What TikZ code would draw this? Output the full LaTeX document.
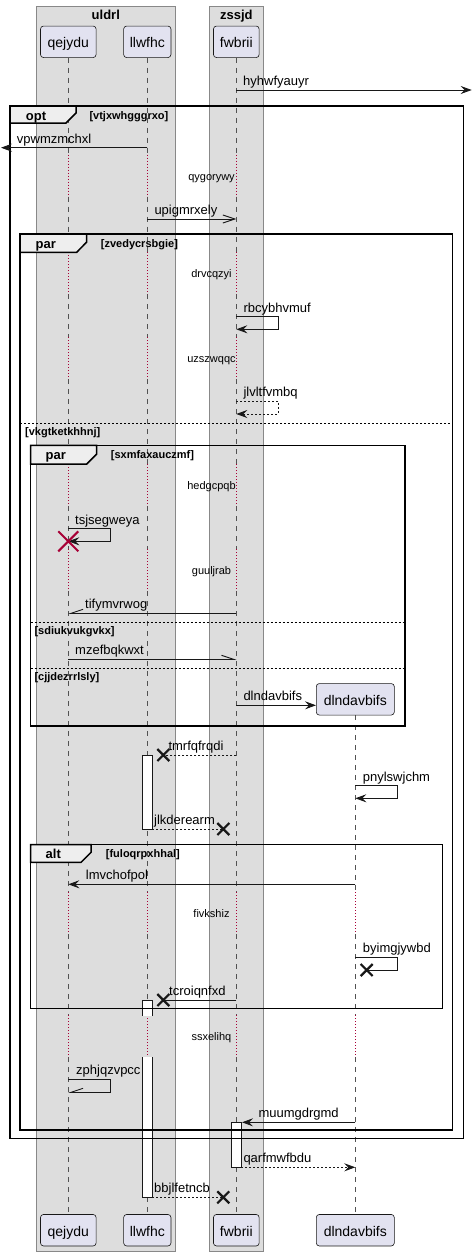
\documentclass[tikz,border=0pt]{standalone}
\usepackage{fontspec}
\setmainfont{Liberation Sans}
\usetikzlibrary{arrows.meta}
\definecolor{boxgrey}{HTML}{DDDDDD}
\definecolor{boxedge}{HTML}{888888}
\definecolor{partfill}{HTML}{E2E2F0}
\definecolor{tabfill}{HTML}{EEEEEE}
\definecolor{ink}{HTML}{181818}
\definecolor{delayred}{HTML}{A80036}
\begin{document}
\begin{tikzpicture}[x=1pt,y=-1pt,
  grpbox/.style={fill=boxgrey,draw=boxedge,line width=0.8pt},
  grptitle/.style={anchor=base,inner sep=0pt,font=\bfseries\fontsize{13}{15}\selectfont},
  actor/.style={draw=ink,fill=partfill,line width=0.6pt,rounded corners=3pt,inner sep=0pt,
    minimum height=31.5pt,text height=12.5pt,text depth=0.5pt,font=\fontsize{14}{16}\selectfont},
  life/.style={draw=ink!75,line width=0.6pt,dash pattern=on 5pt off 5pt},
  delayline/.style={draw=delayred,line width=0.8pt,dash pattern=on 1pt off 2pt},
  actbox/.style={fill=white,draw=ink,line width=0.6pt},
  frame/.style={draw=black,line width=1.5pt},
  tabshape/.style={fill=tabfill,draw=black,line width=1.5pt},
  framelbl/.style={anchor=base,inner sep=0pt,font=\bfseries\fontsize{13}{15}\selectfont},
  guard/.style={anchor=base west,inner sep=0pt,font=\bfseries\fontsize{11}{13}\selectfont},
  elseline/.style={draw=black,line width=0.8pt,dash pattern=on 2pt off 2pt},
  msg/.style={draw=ink,line width=0.9pt},
  reply/.style={msg,dash pattern=on 2pt off 2pt},
  tipfull/.style={-{Stealth[length=11pt,width=8pt,inset=4pt]}},
  tipopen/.style={-{Straight Barb[length=12pt,width=8pt]}},
  tipupl/.style={-{Straight Barb[left,length=12pt,width=8pt]}},
  tipupr/.style={-{Straight Barb[right,length=12pt,width=8pt]}},
  lbl/.style={anchor=base west,inner sep=0pt,font=\fontsize{13}{15}\selectfont},
  delaytxt/.style={anchor=base,inner sep=0pt,font=\fontsize{11}{13}\selectfont},
  lostx/.pic={\draw[ink,line width=2.2pt] (-6,-6) -- (6,6) (-6,6) -- (6,-6);},
  killx/.pic={\draw[delayred,line width=2pt] (-10,-10) -- (10,10) (-10,10) -- (10,-10);}
]
\useasboundingbox (0,0) rectangle (472,1256);

% participant groups
\path[grpbox] (36.3,6) rectangle (175.3,1251.7);
\path[grpbox] (209.3,6) rectangle (263.3,1251.7);
\node[grptitle] (t-uldrl) at (105.8,19.5) {uldrl};
\node[grptitle] (t-zssjd) at (236.3,19.5) {zssjd};

% lifelines: dashed, dotted red while delayed
\foreach \lx in {68.3,147.3,236.3}{
  \foreach \a/\b in {57.5/154.7,196.7/252.3,294.3/337,379/464,506/549,591/892,934/1015.3,1057.3/1214.3}
    {\draw[life] (\lx,\a) -- (\lx,\b);}
  \foreach \a/\b in {154.7/196.7,252.3/294.3,337/379,464/506,549/591,892/934,1015.3/1057.3}
    {\draw[delayline] (\lx,\a) -- (\lx,\b);}
}
\foreach \a/\b in {715.3/892,934/1015.3,1057.3/1214.3}{\draw[life] (355.3,\a) -- (355.3,\b);}
\foreach \a/\b in {892/934,1015.3/1057.3}{\draw[delayline] (355.3,\a) -- (355.3,\b);}

% participants
\node[actor,minimum width=55.6pt] (qejydu) at (68.3,41.8) {qejydu};
\node[actor,minimum width=47.3pt] (llwfhc) at (147.3,41.8) {llwfhc};
\node[actor,minimum width=45.7pt] (fwbrii) at (236.3,41.8) {fwbrii};
\node[actor,minimum width=78pt] (dlndavbifs) at (355.3,699.3) {dlndavbifs};
\node[actor,minimum width=55.6pt] (qejydu-b) at (68.3,1230.2) {qejydu};
\node[actor,minimum width=47.3pt] (llwfhc-b) at (147.3,1230.2) {llwfhc};
\node[actor,minimum width=45.7pt] (fwbrii-b) at (236.3,1230.2) {fwbrii};
\node[actor,minimum width=78pt] (dlndavbifs-b) at (355.3,1230.2) {dlndavbifs};

% activations
\path[actbox] (142.7,755) rectangle (152.3,829);
\fill[white] (142.7,1000) rectangle (152.3,1015.7);
\draw[ink,line width=0.6pt] (142.7,1015.7) -- (142.7,1000) -- (152.3,1000) -- (152.3,1015.7);
\fill[white] (142.7,1057.3) rectangle (152.3,1197.3);
\draw[ink,line width=0.6pt] (142.7,1057.3) -- (142.7,1197.3) -- (152.3,1197.3) -- (152.3,1057.3);
\path[actbox] (231.7,1122.3) rectangle (241,1167.3);

% opt frame
\draw[frame] (10,106) rectangle (463.3,1138.3);
\draw[tabshape] (10,106) -- (76,106) -- (76,113) -- (66,123) -- (10,123) -- cycle;
\node[framelbl] (f-opt) at (36,120) {opt};
\node[guard] (g-opt) at (89.3,119) {[vtjxwhgggrxo]};

% outer par frame
\draw[frame] (20,234) rectangle (452.3,1130);
\draw[tabshape] (20,234) -- (86.7,234) -- (86.7,242) -- (76.7,252.3) -- (20,252.3) -- cycle;
\node[framelbl] (f-par1) at (45.8,248) {par};
\node[guard] (g-par1) at (100.7,247) {[zvedycrsbgie]};
\draw[elseline] (20,423.3) -- (452.3,423.3);
\node[guard] (g-par1b) at (25,435) {[vkgtketkhhnj]};

% inner par frame
\draw[frame] (30.7,445.3) rectangle (405,726);
\draw[tabshape] (30.7,445.3) -- (96.7,445.3) -- (96.7,454) -- (86.7,464) -- (30.7,464) -- cycle;
\node[framelbl] (f-par2) at (55.8,459.3) {par};
\node[guard] (g-par2) at (110.7,458.3) {[sxmfaxauczmf]};
\draw[elseline] (30.7,622.3) -- (405,622.3);
\node[guard] (g-par2b) at (34.3,634) {[sdiukvukgvkx]};
\draw[elseline] (30.7,668.3) -- (405,668.3);
\node[guard] (g-par2c) at (34.3,680) {[cjjdezrrlsly]};

% alt frame
\draw[frame] (30.7,844.7) rectangle (442.7,1008.3);
\draw[tabshape] (30.7,844.7) -- (91,844.7) -- (91,852.3) -- (81,862.3) -- (30.7,862.3) -- cycle;
\node[framelbl] (f-alt) at (53.3,858.7) {alt};
\node[guard] (g-alt) at (105.7,857.7) {[fuloqrpxhhal]};

% delays
\foreach \ty/\txt in {176.7/qygorywy,274.3/drvcqzyi,359/uzszwqqc,486/hedgcpqb,571/guuljrab,914/fivkshiz,1037.3/ssxelihq}
  {\node[delaytxt] (d-\txt) at (211.5,\ty+3.5) {\txt};}

% messages
\coordinate (m1a) at (236.3,90); \coordinate (m1b) at (471.7,90);
\draw[msg,tipfull] (m1a) -- (m1b);
\node[lbl] (m1t) at (243,85.3) {hyhwfyauyr};

\coordinate (m2a) at (147.3,147.7); \coordinate (m2b) at (1,147.7);
\draw[msg,tipfull] (m2a) -- (m2b);
\node[lbl] (m2t) at (16.7,143) {vpwmzmchxl};

\coordinate (m3a) at (147.3,219); \coordinate (m3b) at (236.3,219);
\draw[msg,tipopen] (m3a) -- (m3b);
\node[lbl] (m3t) at (154.3,214.3) {upigmrxely};

\coordinate (m4a) at (236.3,316.7); \coordinate (m4b) at (236.3,329.3);
\draw[msg,tipfull] (m4a) -- (278.3,316.7) -- (278.3,329.3) -- (m4b);
\node[lbl] (m4t) at (243.3,312) {rbcybhvmuf};

\coordinate (m5a) at (236.3,401.3); \coordinate (m5b) at (236.3,414);
\draw[reply,tipfull] (m5a) -- (278.3,401.3) -- (278.3,414) -- (m5b);
\node[lbl] (m5t) at (243.3,396.6) {jlvltfvmbq};

\coordinate (m6a) at (68.3,528.7); \coordinate (m6b) at (68.3,541.3);
\draw[msg,tipfull] (m6a) -- (110.3,528.7) -- (110.3,541.3) -- (m6b);
\node[lbl] (m6t) at (75,524) {tsjsegweya};
\pic at (m6b) {killx};

\coordinate (m7a) at (236.3,613.3); \coordinate (m7b) at (68.3,613.3);
\draw[msg,tipupr] (m7a) -- (m7b);
\node[lbl] (m7t) at (85,608.6) {tifymvrwog};

\coordinate (m8a) at (68.3,659.3); \coordinate (m8b) at (236.3,659.3);
\draw[msg,tipupl] (m8a) -- (m8b);
\node[lbl] (m8t) at (75,654.6) {mzefbqkwxt};

\coordinate (m9a) at (236.3,705.3); \coordinate (m9b) at (dlndavbifs.west |- m9a);
\draw[msg,tipfull] (m9a) -- (m9b);
\node[lbl] (m9t) at (243.3,700.6) {dlndavbifs};

\coordinate (m10a) at (236.3,755); \coordinate (m10b) at (163.3,755);
\draw[reply] (m10a) -- (m10b);
\pic at (m10b) {lostx};
\node[lbl] (m10t) at (168.3,750.3) {tmrfqfrqdi};

\coordinate (m11a) at (355.3,785.7); \coordinate (m11b) at (355.3,798.3);
\draw[msg,tipfull] (m11a) -- (397.3,785.7) -- (397.3,798.3) -- (m11b);
\node[lbl] (m11t) at (362.7,781) {pnylswjchm};

\coordinate (m12a) at (152.3,829); \coordinate (m12b) at (223.3,829);
\draw[reply] (m12a) -- (m12b);
\pic at (m12b) {lostx};
\node[lbl] (m12t) at (154,824.3) {jlkderearm};

\coordinate (m13a) at (355.3,884.3); \coordinate (m13b) at (68.3,884.3);
\draw[msg,tipfull] (m13a) -- (m13b);
\node[lbl] (m13t) at (85.7,879.6) {lmvchofpol};

\coordinate (m14a) at (355.3,957.3); \coordinate (m14b) at (366.7,970);
\draw[msg] (m14a) -- (397.7,957.3) -- (397.7,970) -- (m14b);
\pic at (m14b) {lostx};
\node[lbl] (m14t) at (362.7,952.6) {byimgjywbd};

\coordinate (m15a) at (236.3,1000); \coordinate (m15b) at (163.3,1000);
\draw[msg] (m15a) -- (m15b);
\pic at (m15b) {lostx};
\node[lbl] (m15t) at (169,995.3) {tcroiqnfxd};

\coordinate (m16a) at (68.3,1079); \coordinate (m16b) at (68.3,1092.3);
\draw[msg,tipupr] (m16a) -- (110.3,1079) -- (110.3,1092.3) -- (m16b);
\node[lbl] (m16t) at (76,1074.3) {zphjqzvpcc};

\coordinate (m17a) at (355.3,1122.3); \coordinate (m17b) at (242,1122.3);
\draw[msg,tipfull] (m17a) -- (m17b);
\node[lbl] (m17t) at (258.3,1117.6) {muumgdrgmd};

\coordinate (m18a) at (241,1167.3); \coordinate (m18b) at (355.3,1167.3);
\draw[reply,tipfull] (m18a) -- (m18b);
\node[lbl] (m18t) at (243.3,1162.6) {qarfmwfbdu};

\coordinate (m19a) at (152.3,1197.3); \coordinate (m19b) at (223.3,1197.3);
\draw[reply] (m19a) -- (m19b);
\pic at (m19b) {lostx};
\node[lbl] (m19t) at (154,1192.6) {bbjlfetncb};
\end{tikzpicture}
\end{document}
